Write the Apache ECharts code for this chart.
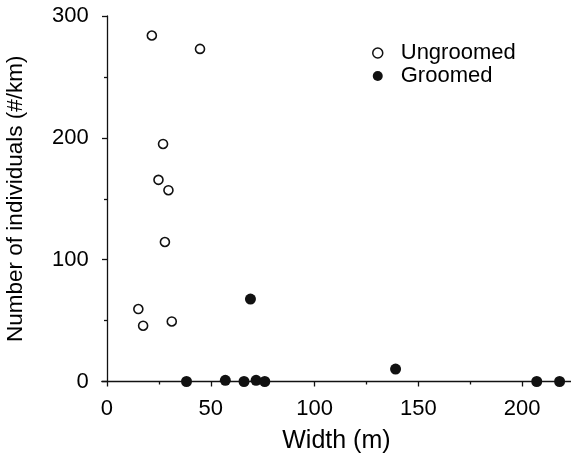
<!DOCTYPE html>
<html>
<head>
<meta charset="utf-8">
<script src="https://cdn.jsdelivr.net/npm/echarts@6/dist/echarts.min.js"></script>
<style>html,body{margin:0;padding:0;background:#fff}#c{width:571px;height:459px}</style>
</head>
<body>
<div id="c"></div>
<script>
var ungroomedWidth = [21.6, 44.8, 27, 24.8, 29.6, 27.9, 15.1, 17.4, 31.2];
var ungroomedCount = [284, 273, 195, 165.5, 157, 114.5, 59.5, 45.8, 49.3];
var groomedWidth = [69.1, 38.3, 57, 66, 71.8, 76, 139, 207, 218];
var groomedCount = [67.7, 0, 1, 0, 1, 0, 10.2, 0, 0];
var xMajorTicks = [0, 50, 100, 150, 200];
var xMinorTicks = [25, 75, 125, 175];
var yMajorTicks = [0, 100, 200, 300];
var yMinorTicks = [50, 150, 250];

function pairs(xs, ys) { return xs.map(function (x, i) { return [x, ys[i]]; }); }

var FONT = 'Liberation Sans';
var chart = echarts.init(document.getElementById('c'), null, { renderer: 'canvas' });
var axisLineStyle = { color: '#111', width: 1.3 };
chart.setOption({
  backgroundColor: '#fff',
  animation: false,
  textStyle: { fontFamily: FONT, color: '#000' },
  legend: {
    orient: 'vertical',
    left: 367,
    top: 37,
    itemGap: 1,
    itemWidth: 10,
    itemHeight: 10,
    textStyle: { fontFamily: FONT, fontSize: 22, color: '#000', padding: [0, 0, 0, 13] },
    data: [
      { name: 'Ungroomed', icon: 'circle', itemStyle: { color: '#fff', borderColor: '#111', borderWidth: 1.5 } },
      { name: 'Groomed', icon: 'circle', itemStyle: { color: '#111' } }
    ]
  },
  grid: { left: 101.8, right: 0, top: 16, bottom: 77.5, containLabel: false, outerBoundsMode: 'none' },
  xAxis: [{
    type: 'value', min: -2.5, max: 223.5,
    name: 'Width (m)', nameLocation: 'middle', nameGap: 47,
    nameTextStyle: { fontFamily: FONT, fontSize: 25, color: '#000' },
    axisLine: { onZero: false, lineStyle: axisLineStyle },
    axisTick: { show: true, inside: false, length: 5, lineStyle: axisLineStyle, customValues: xMajorTicks },
    axisLabel: { customValues: xMajorTicks, fontFamily: FONT, fontSize: 22, color: '#000', margin: 16 },
    splitLine: { show: false }
  }, {
    type: 'value', min: -2.5, max: 223.5, position: 'bottom', offset: 0,
    axisLine: { show: false },
    axisTick: { show: true, length: 3, lineStyle: axisLineStyle, customValues: xMinorTicks },
    axisLabel: { show: false },
    splitLine: { show: false }
  }],
  yAxis: [{
    type: 'value', min: 0, max: 300,
    name: 'Number of individuals (#/km)', nameLocation: 'middle', nameGap: 75,
    nameTextStyle: { fontFamily: FONT, fontSize: 22.5, color: '#000' },
    axisLine: { show: true, onZero: true, lineStyle: axisLineStyle },
    axisTick: { show: true, length: 5, lineStyle: axisLineStyle, customValues: yMajorTicks },
    axisLabel: { customValues: yMajorTicks, fontFamily: FONT, fontSize: 22, color: '#000', margin: 13 },
    splitLine: { show: false }
  }, {
    type: 'value', min: 0, max: 300, position: 'left',
    axisLine: { show: false, onZero: true },
    axisTick: { show: true, length: 3, lineStyle: axisLineStyle, customValues: yMinorTicks },
    axisLabel: { show: false },
    splitLine: { show: false }
  }],
  series: [{
    name: 'Ungroomed', type: 'scatter', xAxisIndex: 0, yAxisIndex: 0,
    symbol: 'circle', symbolSize: 9,
    itemStyle: { color: '#fff', borderColor: '#111', borderWidth: 1.6, opacity: 1 },
    data: pairs(ungroomedWidth, ungroomedCount), z: 3
  }, {
    name: 'Groomed', type: 'scatter', xAxisIndex: 0, yAxisIndex: 0,
    symbol: 'circle', symbolSize: 11,
    itemStyle: { color: '#111', opacity: 1 },
    data: pairs(groomedWidth, groomedCount), z: 4
  }]
});
</script>
</body>
</html>
